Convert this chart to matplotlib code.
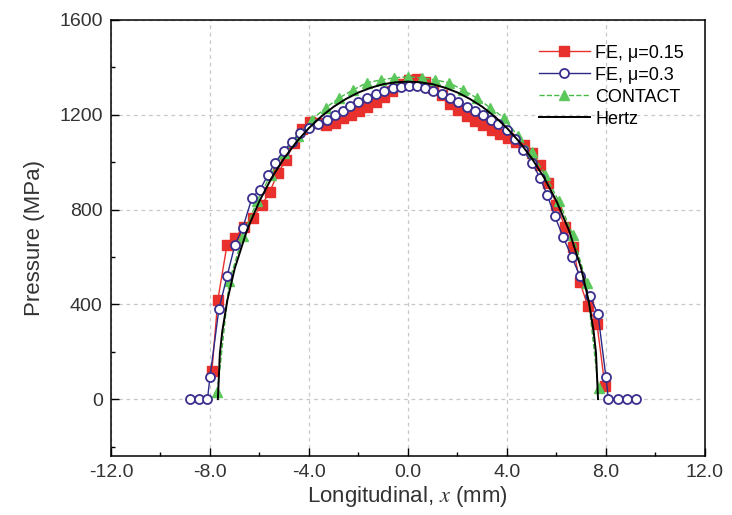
import numpy as np
import matplotlib.pyplot as plt
from matplotlib.ticker import MultipleLocator, FormatStrFormatter

plt.rcParams['font.family'] = ['Liberation Sans', 'DejaVu Sans']
plt.rcParams['mathtext.fontset'] = 'stix'

# FE, mu=0.15 (red squares)
x_fe15 = [-7.92, -7.68, -7.31, -6.99, -6.63, -6.26, -5.90, -5.58, -5.25, -4.93, -4.60,
          -4.30, -3.96, -3.64, -3.30, -2.95, -2.63, -2.30, -1.97, -1.64, -1.30, -0.97,
          -0.64, -0.30, 0.04, 0.36, 0.69, 1.01, 1.37, 1.70, 2.02, 2.38, 2.71, 3.03,
          3.39, 3.72, 4.04, 4.36, 4.69, 5.01, 5.33, 5.66, 6.00, 6.34, 6.67, 6.95,
          7.27, 7.64, 7.96]
p_fe15 = [120, 420, 652, 682, 725, 766, 821, 876, 956, 1010, 1080,
          1140, 1168, 1165, 1155, 1165, 1185, 1200, 1215, 1232, 1252, 1275,
          1300, 1328, 1345, 1350, 1340, 1315, 1285, 1245, 1222, 1195, 1175, 1155,
          1137, 1118, 1100, 1086, 1072, 1040, 990, 914, 821, 728, 640, 493,
          392, 316, 55]

# FE, mu=0.3 (open circles)
x_fe30 = [-8.80, -8.45, -8.10, -8.00, -7.64, -7.31, -6.99, -6.67, -6.30, -5.98, -5.66,
          -5.37, -5.02, -4.69, -4.36, -4.00, -3.64, -3.27, -2.95, -2.63, -2.34, -2.02,
          -1.66, -1.29, -0.97, -0.61, -0.28, 0.04, 0.36, 0.69, 1.01, 1.37, 1.70, 2.02,
          2.38, 2.71, 3.03, 3.35, 3.64, 4.00, 4.32, 4.65, 5.01, 5.33, 5.62, 5.94,
          6.26, 6.63, 6.95, 7.35, 7.68, 8.00, 8.10, 8.48, 8.85, 9.20]
p_fe30 = [0, 0, 0, 93, 379, 518, 652, 724, 850, 884, 945,
          998, 1048, 1086, 1124, 1145, 1162, 1179, 1200, 1217, 1238, 1255,
          1271, 1288, 1301, 1313, 1318, 1322, 1322, 1313, 1301, 1288, 1271, 1255,
          1234, 1217, 1200, 1179, 1162, 1137, 1099, 1053, 998, 935, 863, 771,
          686, 598, 518, 434, 358, 93, 0, 0, 0, 0]

# CONTACT (triangles)
x_contact = [-7.70, -7.22, -6.66, -6.10, -5.55, -5.00, -4.44, -3.88, -3.33, -2.78, -2.22,
             -1.66, -1.10, -0.55, 0.00, 0.55, 1.10, 1.66, 2.22, 2.78, 3.33, 3.88,
             4.44, 5.00, 5.55, 6.10, 6.66, 7.22, 7.70]
p_contact = [30, 497, 690, 835, 945, 1040, 1110, 1180, 1229, 1271, 1305,
             1335, 1347, 1356, 1360, 1356, 1347, 1335, 1305, 1271, 1229, 1187,
             1110, 1044, 945, 835, 693, 490, 45]

# Hertz
x_hertz = [-7.68, -7.6, -7.5, -7.3, -7.0, -6.5, -6.0, -5.5, -5.0, -4.5, -4.0, -3.5, -3.0,
           -2.5, -2.0, -1.5, -1.0, -0.5, 0.0, 0.5, 1.0, 1.5, 2.0, 2.5, 3.0, 3.5, 4.0,
           4.5, 5.0, 5.5, 6.0, 6.5, 7.0, 7.3, 7.5, 7.6, 7.68]
p_hertz = [0, 193, 288, 416, 551, 714, 836, 935, 1017, 1086, 1144, 1193, 1234,
           1267, 1294, 1314, 1329, 1337, 1340, 1337, 1329, 1314, 1294, 1267, 1234, 1193, 1144,
           1086, 1017, 935, 836, 714, 551, 416, 288, 193, 0]

fig = plt.figure(figsize=(7.32, 5.15), dpi=100)
ax = fig.add_axes([0.1516, 0.1146, 0.8114, 0.8466])

ax.plot(x_fe15, p_fe15, '-', color='#e8302c', lw=1.0, marker='s', ms=6.5,
        mfc='#e8302c', mec='#e8302c', label='FE, μ=0.15', zorder=3)
ax.plot(x_fe30, p_fe30, '-', color='#2a2a86', lw=1.0, marker='o', ms=6.5,
        mfc='white', mec='#3a2f8e', mew=1.3, label='FE, μ=0.3', zorder=4)
ax.plot(x_contact, p_contact, '--', color='#44b944', lw=1.0, marker='^', ms=7.5,
        mfc='#5cc85c', mec='#5cc85c', label='CONTACT', zorder=3)
ax.plot(x_hertz, p_hertz, '-', color='black', lw=1.4, label='Hertz', zorder=5)

ax.set_xlim(-12, 12)
ax.set_ylim(-240, 1600)
ax.xaxis.set_major_locator(MultipleLocator(4))
ax.xaxis.set_minor_locator(MultipleLocator(2))
ax.yaxis.set_major_locator(MultipleLocator(400))
ax.yaxis.set_minor_locator(MultipleLocator(200))
ax.xaxis.set_major_formatter(FormatStrFormatter('%.1f'))
ax.tick_params(which='both', direction='in', top=False, right=False,
               labelsize=14, labelcolor='#333333', width=1.0, pad=6)
ax.tick_params(which='major', length=6)
ax.tick_params(which='minor', length=3)
ax.grid(True, which='major', color='#c8c8c8', ls=(0, (3, 3)), lw=0.9)
for s in ax.spines.values():
    s.set_linewidth(1.1)

ax.set_xlabel(r'Longitudinal, $x$ (mm)', fontsize=16, color='#333333', labelpad=2)
ax.set_ylabel('Pressure (MPa)', fontsize=16, color='#333333', labelpad=10)

leg = ax.legend(loc='upper right', fontsize=13, frameon=True, fancybox=False,
                edgecolor='black', framealpha=0, handlelength=2.8,
                borderpad=0.5, labelspacing=0.28, handletextpad=0.3,
                bbox_to_anchor=(0.995, 0.985))
leg.get_frame().set_linewidth(1.0)

fig.savefig('out.png', dpi=100)
